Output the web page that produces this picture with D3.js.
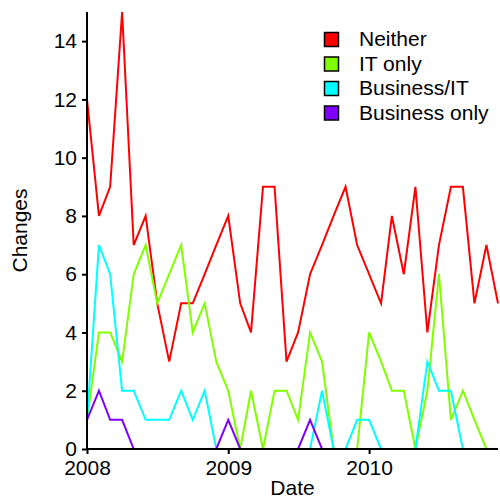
<!DOCTYPE html>
<html>
<head>
<meta charset="utf-8">
<script src="https://cdn.jsdelivr.net/npm/d3@7"></script>
<style>
  body { margin: 0; background: #fff; }
  svg text { font-family: "Liberation Sans", Arial, sans-serif; fill: #000; }
</style>
</head>
<body>
<svg id="chart" width="500" height="499"></svg>
<script>
// Monthly data, Jan 2008 to Dec 2010
const months = d3.range(36).map(i => new Date(2008, i, 1));
const seriesNames = ["Neither", "IT only", "Business/IT", "Business only"];
const seriesColors = ["#FF0000", "#80FF00", "#00FFFF", "#8000FF"];

const neither = [12, 8, 9, 15, 7, 8, 5, 3, 5, 5, 6, 7,
                 8, 5, 4, 9, 9, 3, 4, 6, 7, 8, 9, 7,
                 6, 5, 8, 6, 9, 4, 7, 9, 9, 5, 7, 5];
const itOnly = [1, 4, 4, 3, 6, 7, 5, 6, 7, 4, 5, 3,
                2, 0, 2, 0, 2, 2, 1, 4, 3, 0, 0, 0,
                4, 3, 2, 2, 0, 2, 6, 1, 2, 1, 0, 0];
const businessIT = [1, 7, 6, 2, 2, 1, 1, 1, 2, 1, 2, 0,
                    0, 0, 0, 0, 0, 0, 0, 0, 2, 0, 0, 1,
                    1, 0, 0, 0, 0, 3, 2, 2, 0, 0, 0, 0];
const businessOnly = [1, 2, 1, 1, 0, 0, 0, 0, 0, 0, 0, 0,
                      1, 0, 0, 0, 0, 0, 0, 1, 0, 0, 0, 0,
                      0, 0, 0, 0, 0, 0, 0, 0, 0, 0, 0, 0];
const allSeries = [neither, itOnly, businessIT, businessOnly];

const yTicks = [0, 2, 4, 6, 8, 10, 12, 14];
const xTicks = [new Date(2008, 0, 1), new Date(2009, 0, 1), new Date(2010, 0, 1)];

const svg = d3.select("#chart");
const plotLeft = 87, plotRight = 498, plotTop = 12, plotBottom = 449;

const x = d3.scaleTime()
    .domain([months[0], months[months.length - 1]])
    .range([plotLeft, plotRight]);
const y = d3.scaleLinear()
    .domain([0, 15])
    .range([plotBottom, plotTop]);

// lines
const line = d3.line()
    .x((d, i) => x(months[i]))
    .y(d => y(d));

allSeries.forEach(function(s, k) {
    svg.append("path")
        .datum(s)
        .attr("d", line)
        .attr("fill", "none")
        .attr("stroke", seriesColors[k])
        .attr("stroke-width", 2)
        .attr("stroke-linejoin", "miter");
});

// y axis
const yAxis = svg.append("g")
    .attr("transform", `translate(${plotLeft},0)`)
    .call(d3.axisLeft(y).tickValues(yTicks).tickSize(5).tickPadding(5).tickSizeOuter(0));
yAxis.select(".domain").attr("stroke", "#000").attr("stroke-width", 2)
    .attr("d", `M0,${plotTop}V${plotBottom}`);
yAxis.selectAll(".tick line").attr("stroke", "#000").attr("stroke-width", 2);
yAxis.selectAll(".tick text").style("font-size", "21px");

// x axis
const xAxis = svg.append("g")
    .attr("transform", `translate(0,${plotBottom})`)
    .call(d3.axisBottom(x).tickValues(xTicks).tickFormat(d3.timeFormat("%Y"))
        .tickSize(5).tickPadding(6).tickSizeOuter(0));
xAxis.select(".domain").attr("stroke", "#000").attr("stroke-width", 2)
    .attr("d", `M${plotLeft},0H${plotRight}`);
xAxis.selectAll(".tick line").attr("stroke", "#000").attr("stroke-width", 2);
xAxis.selectAll(".tick text").style("font-size", "21px");

// axis titles
svg.append("text")
    .attr("x", (plotLeft + plotRight) / 2)
    .attr("y", 495)
    .attr("text-anchor", "middle")
    .style("font-size", "21px")
    .text("Date");

svg.append("text")
    .attr("transform", `translate(27,${(plotTop + plotBottom) / 2}) rotate(-90)`)
    .attr("text-anchor", "middle")
    .style("font-size", "21px")
    .text("Changes");

// legend
const legend = svg.append("g").attr("transform", "translate(324,32)");
const items = legend.selectAll("g")
    .data(seriesNames)
    .enter().append("g")
    .attr("transform", (d, i) => `translate(0, ${i * 24.5})`);
items.append("rect")
    .attr("x", 0.5).attr("y", 0.5)
    .attr("width", 14).attr("height", 14)
    .attr("fill", (d, i) => seriesColors[i])
    .attr("stroke", "#000")
    .attr("stroke-width", 1.5);
items.append("text")
    .attr("x", 35)
    .attr("y", 14)
    .style("font-size", "21px")
    .text(d => d);
</script>
</body>
</html>
